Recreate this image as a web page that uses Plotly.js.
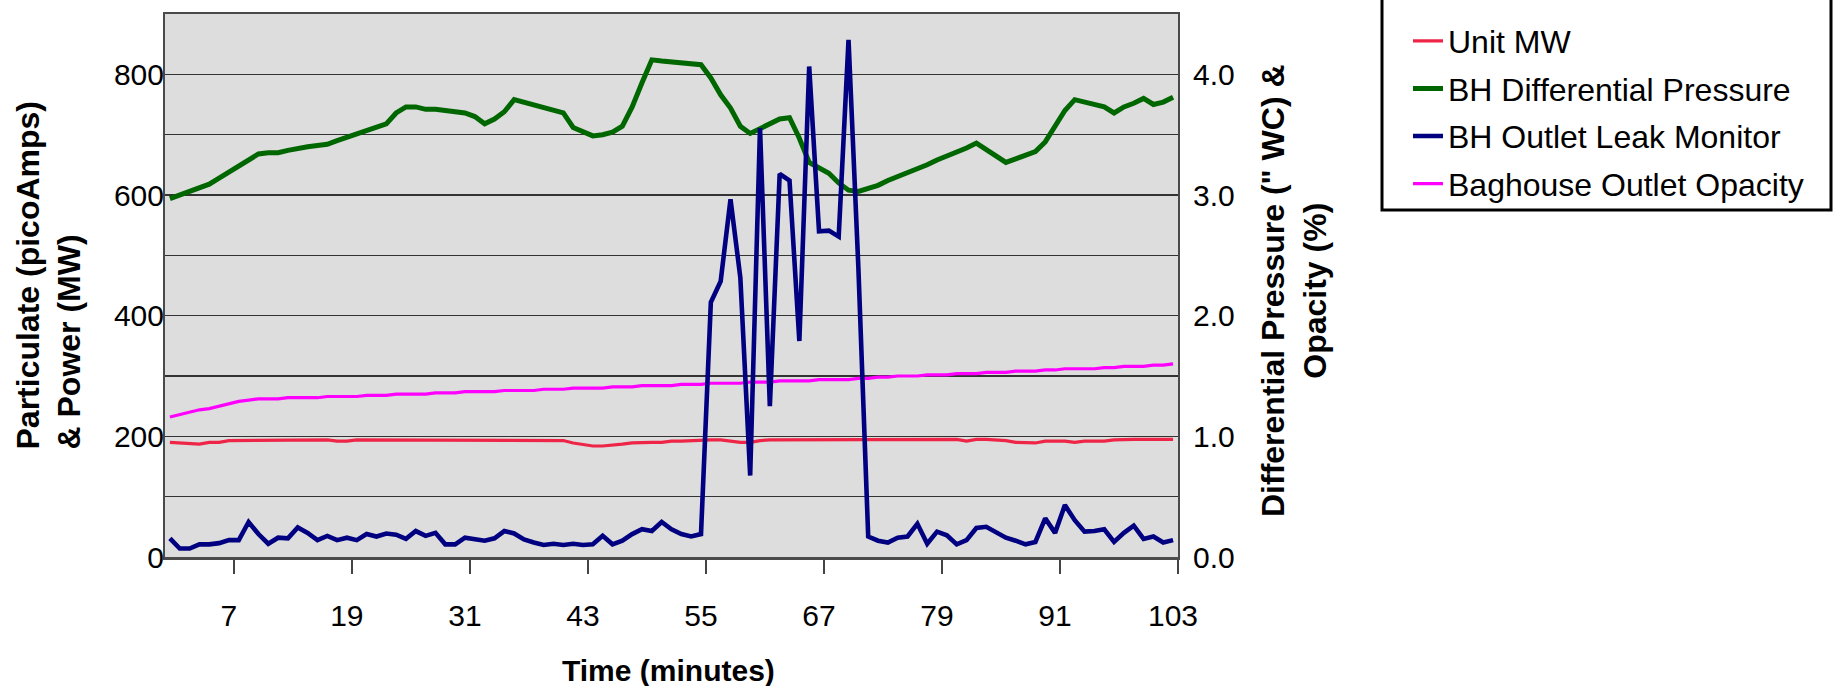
<!DOCTYPE html>
<html>
<head>
<meta charset="utf-8">
<script src="https://cdn.plot.ly/plotly-3.0.1.min.js"></script>
<style>
  html, body { margin: 0; padding: 0; background: #ffffff; }
  #chart { width: 1833px; height: 686px; }
</style>
</head>
<body>
<div id="chart"></div>
<script>
// ---- data ----
const minutes = Array.from({length: 103}, (_, i) => i + 1);
const tickLabels = [7, 19, 31, 43, 55, 67, 79, 91, 103];

// Unit MW (left axis)
const unitMW = [
  190, 189, 187, 187, 190, 190, 193, 193, 193, 193,
  193, 193, 193, 194, 194, 194, 194, 192, 192, 194,
  194, 194, 194, 194, 194, 194, 194, 194, 194, 194,
  194, 194, 194, 194, 194, 194, 194, 194, 194, 194,
  193, 189, 187, 184, 184, 185, 187, 189, 190, 190,
  190, 192, 192, 193, 194, 194, 194, 192, 190, 190,
  193, 194, 194, 195, 195, 195, 195, 195, 195, 195,
  195, 195, 195, 195, 195, 195, 195, 195, 195, 195,
  195, 192, 195, 195, 194, 193, 190, 189, 189, 192,
  192, 192, 190, 192, 192, 192, 194, 195, 195, 195,
  195, 195, 195
];

// BH Differential Pressure (" WC, right axis)
const bhDiffPressure = [
  2.97, 3.00, 3.02, 3.06, 3.09, 3.14, 3.19, 3.24, 3.29, 3.34,
  3.35, 3.35, 3.37, 3.39, 3.40, 3.41, 3.42, 3.45, 3.48, 3.51,
  3.53, 3.56, 3.59, 3.68, 3.73, 3.73, 3.71, 3.71, 3.70, 3.69,
  3.68, 3.65, 3.59, 3.63, 3.69, 3.79, 3.77, 3.75, 3.73, 3.71,
  3.68, 3.56, 3.52, 3.49, 3.50, 3.52, 3.57, 3.73, 3.93, 4.12,
  4.11, 4.10, 4.09, 4.08, 4.08, 3.97, 3.83, 3.72, 3.57, 3.51,
  3.55, 3.59, 3.63, 3.64, 3.47, 3.27, 3.23, 3.18, 3.10, 3.04,
  3.03, 3.05, 3.08, 3.12, 3.15, 3.18, 3.22, 3.25, 3.29, 3.32,
  3.35, 3.39, 3.43, 3.38, 3.32, 3.27, 3.30, 3.33, 3.36, 3.44,
  3.58, 3.70, 3.79, 3.77, 3.75, 3.73, 3.68, 3.73, 3.76, 3.80,
  3.75, 3.77, 3.81
];

// BH Outlet Leak Monitor (picoAmps, left axis)
const bhLeakMonitor = [
  31, 14, 14, 21, 21, 23, 28, 28, 58, 38,
  22, 32, 31, 49, 40, 28, 35, 28, 32, 28,
  38, 34, 39, 37, 30, 43, 35, 40, 21, 21,
  32, 29, 27, 31, 43, 39, 29, 24, 20, 22,
  20, 22, 20, 21, 35, 21, 27, 38, 46, 43,
  58, 46, 38, 34, 38, 422, 457, 593, 463, 135,
  711, 250, 635, 624, 358, 813, 540, 541, 531, 857,
  480, 34, 27, 24, 32, 34, 55, 22, 42, 36,
  21, 28, 48, 50, 40, 32, 27, 21, 25, 64,
  40, 86, 61, 42, 43, 46, 25, 40, 52, 30,
  34, 24, 28
];

// Baghouse Outlet Opacity (%, right axis)
const bhOpacity = [
  1.16, 1.18, 1.20, 1.22, 1.23, 1.25, 1.27, 1.29, 1.30, 1.31,
  1.31, 1.31, 1.32, 1.32, 1.32, 1.32, 1.33, 1.33, 1.33, 1.33,
  1.34, 1.34, 1.34, 1.35, 1.35, 1.35, 1.35, 1.36, 1.36, 1.36,
  1.37, 1.37, 1.37, 1.37, 1.38, 1.38, 1.38, 1.38, 1.39, 1.39,
  1.39, 1.40, 1.40, 1.40, 1.40, 1.41, 1.41, 1.41, 1.42, 1.42,
  1.42, 1.42, 1.43, 1.43, 1.43, 1.44, 1.44, 1.44, 1.44, 1.45,
  1.45, 1.45, 1.46, 1.46, 1.46, 1.46, 1.47, 1.47, 1.47, 1.47,
  1.48, 1.48, 1.49, 1.49, 1.50, 1.50, 1.50, 1.51, 1.51, 1.51,
  1.52, 1.52, 1.52, 1.53, 1.53, 1.53, 1.54, 1.54, 1.54, 1.55,
  1.55, 1.56, 1.56, 1.56, 1.56, 1.57, 1.57, 1.58, 1.58, 1.58,
  1.59, 1.59, 1.60
];

const seriesNames = ['Unit MW', 'BH Differential Pressure', 'BH Outlet Leak Monitor', 'Baghouse Outlet Opacity'];

// ---- styling ----
const FONT = 'Liberation Sans, Arial, Helvetica, sans-serif';
const L = 165, R = 655, T = 14, B = 129, W = 1833, H = 686;
const PW = W - L - R, PH = H - T - B;
const px2x = (px) => (px - L) / PW;
const px2y = (py) => (H - B - py) / PH;

const traces = [
  {x: minutes, y: unitMW, name: seriesNames[0], legendgroup: 'g1', type: 'scatter', mode: 'lines',
   yaxis: 'y2', line: {color: '#EE2547', width: 3.2}},
  {x: minutes, y: bhDiffPressure, name: seriesNames[1], legendgroup: 'g2', type: 'scatter', mode: 'lines',
   yaxis: 'y', line: {color: '#006600', width: 5}},
  {x: minutes, y: bhLeakMonitor, name: seriesNames[2], legendgroup: 'g3', type: 'scatter', mode: 'lines',
   yaxis: 'y2', line: {color: '#000080', width: 4.6}},
  {x: minutes, y: bhOpacity, name: seriesNames[3], legendgroup: 'g4', type: 'scatter', mode: 'lines',
   yaxis: 'y', line: {color: '#FF00FF', width: 3.2}}
];

const layout = {
  width: W, height: H,
  margin: {l: L, r: R, t: T, b: B, pad: 0, autoexpand: false},
  paper_bgcolor: '#ffffff',
  plot_bgcolor: '#DDDDDD',
  font: {family: FONT, color: '#000000', size: 30},
  showlegend: true,
  legend: {
    x: px2x(1408), xanchor: 'left',
    y: px2y(13.5), yanchor: 'top',
    bgcolor: 'rgba(0,0,0,0)', borderwidth: 0,
    font: {family: FONT, size: 32, color: '#000'},
    traceorder: 'grouped', tracegroupgap: 3
  },
  xaxis: {
    range: [0.5, 103.5],
    tickvals: tickLabels.map(v => v + 0.5),
    ticktext: tickLabels.map(String),
    ticks: 'outside', ticklen: 14, tickwidth: 1.5, tickcolor: '#444',
    ticklabelshift: -5, ticklabelstandoff: 16,
    tickfont: {family: FONT, size: 30, color: '#000'},
    showgrid: false, zeroline: false,
    showline: true, linecolor: '#4a4a4a', linewidth: 2.5, mirror: true
  },
  yaxis: {
    side: 'right',
    range: [0, 4.5],
    tickvals: [0, 1, 2, 3, 4], tickformat: '.1f',
    ticks: '', ticklabelstandoff: 7,
    tickfont: {family: FONT, size: 30, color: '#000'},
    showgrid: true, gridcolor: '#333333', gridwidth: 1.4,
    minor: {tickvals: [0.5, 1.5, 2.5, 3.5], showgrid: true, gridcolor: '#333333', gridwidth: 1.4, ticks: ''},
    zeroline: false,
    showline: true, linecolor: '#4a4a4a', linewidth: 2, mirror: true
  },
  yaxis2: {
    overlaying: 'y', side: 'left',
    range: [0, 900],
    tickvals: [0, 200, 400, 600, 800],
    ticks: '', ticklabelstandoff: 0,
    tickfont: {family: FONT, size: 30, color: '#000'},
    showgrid: false, zeroline: false, showline: false
  },
  annotations: [
    {text: 'Particulate (picoAmps)<br>& Power (MW)', xref: 'paper', yref: 'paper',
     x: px2x(48), y: px2y(275.5), xanchor: 'center', yanchor: 'middle',
     textangle: -90, align: 'left', showarrow: false,
     font: {family: FONT, size: 32, color: '#000', weight: 'bold'}},
    {text: 'Differential Pressure (" WC) &<br>Opacity (%)', xref: 'paper', yref: 'paper',
     x: px2x(1294), y: px2y(291), xanchor: 'center', yanchor: 'middle',
     textangle: -90, align: 'center', showarrow: false,
     font: {family: FONT, size: 32, color: '#000', weight: 'bold'}},
    {text: 'Time (minutes)', xref: 'paper', yref: 'paper',
     x: px2x(668), y: px2y(670), xanchor: 'center', yanchor: 'middle',
     showarrow: false,
     font: {family: FONT, size: 30, color: '#000', weight: 'bold'}}
  ],
  shapes: [
    {type: 'rect', xref: 'paper', yref: 'paper',
     x0: px2x(1382), x1: px2x(1831), y0: px2y(210), y1: px2y(-10),
     line: {color: '#000', width: 3}, fillcolor: 'rgba(0,0,0,0)'}
  ]
};

Plotly.newPlot('chart', traces, layout, {displayModeBar: false, staticPlot: true});
</script>
</body>
</html>
